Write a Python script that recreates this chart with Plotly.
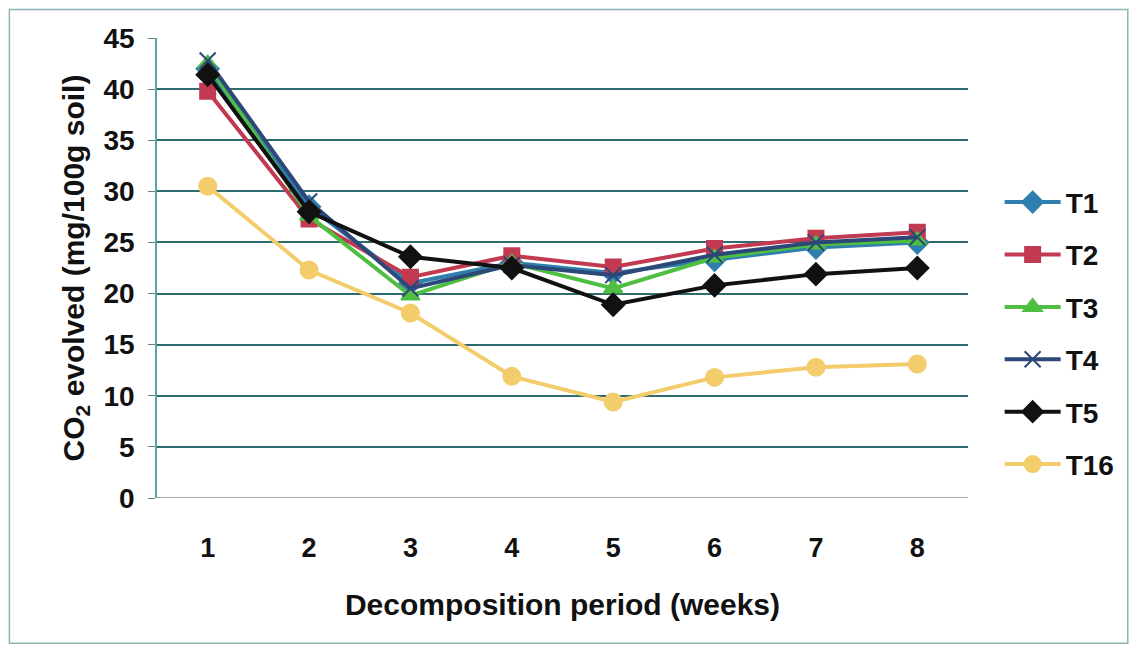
import plotly.graph_objects as go

weeks = [1, 2, 3, 4, 5, 6, 7, 8]
T1 = [42.0, 28.5, 21.0, 23.0, 22.0, 23.3, 24.5, 25.0]
T2 = [39.8, 27.3, 21.6, 23.7, 22.6, 24.4, 25.4, 26.0]
T3 = [42.5, 27.6, 19.8, 23.0, 20.5, 23.5, 24.8, 25.2]
T4 = [42.8, 29.0, 20.5, 22.8, 21.8, 23.8, 25.0, 25.5]
T5 = [41.4, 28.0, 23.6, 22.5, 18.9, 20.8, 21.9, 22.5]
T16 = [30.5, 22.3, 18.1, 11.9, 9.4, 11.8, 12.8, 13.1]

series = [
    ("T1", T1, "#2f7fae", "diamond", 17),
    ("T2", T2, "#c23a52", "square", 15),
    ("T3", T3, "#4fbf42", "triangle-up", 16),
    ("T4", T4, "#2c4878", "x-thin-open", 16),
    ("T5", T5, "#111111", "diamond", 17),
    ("T16", T16, "#f3cd6c", "circle", 17),
]

FONT = "Liberation Sans, Arial, sans-serif"

fig = go.Figure()
for name, vals, color, sym, size in series:
    fig.add_trace(go.Scatter(
        x=weeks, y=vals, name=name, mode="lines+markers", legendgroup=name,
        line=dict(color=color, width=4),
        marker=dict(symbol=sym, size=size, color=color,
                    line=dict(color=color, width=2)),
    ))

fig.update_layout(
    width=1124, height=637,
    margin=dict(l=149, r=162, t=30, b=147),
    paper_bgcolor="white", plot_bgcolor="white",
    font=dict(family=FONT, color="#111111"),
    showlegend=True,
    legend=dict(x=1.039, y=0.697, xanchor="left", yanchor="top",
                font=dict(size=28, family=FONT, weight="bold"),
                tracegroupgap=13, itemwidth=56, bgcolor="rgba(0,0,0,0)"),
    xaxis=dict(
        range=[0.5, 8.5], tickvals=weeks, ticktext=[str(w) for w in weeks],
        showgrid=False, zeroline=False, showline=False, ticks="",
        tickfont=dict(size=27, weight="bold"), ticklabelstandoff=31,
        title=dict(text="Decomposition period (weeks)", font=dict(size=30, weight="bold"), standoff=31),
    ),
    yaxis=dict(
        range=[0, 45], dtick=5, showgrid=True, gridcolor="#2f6b6e", gridwidth=1.5,
        zeroline=False, showline=True, linecolor="#5aa5a8", linewidth=1.5,
        ticks="outside", ticklen=7, tickcolor="#777777",
        tickfont=dict(size=28, weight="bold"), ticklabelstandoff=8,
        title=dict(text="CO<sub>2</sub> evolved (mg/100g soil)", font=dict(size=30, weight="bold"), standoff=10),
    ),
    shapes=[
        dict(type="line", xref="paper", yref="y", x0=0, x1=1, y0=0, y1=0,
             line=dict(color="#8a8f8f", width=1.5)),
        dict(type="rect", xref="paper", yref="paper",
             x0=-0.182, x1=1.197, y0=-0.316, y1=1.062,
             line=dict(color="#8fb3b3", width=1.5)),
    ],
)

fig.write_html("out.html")
